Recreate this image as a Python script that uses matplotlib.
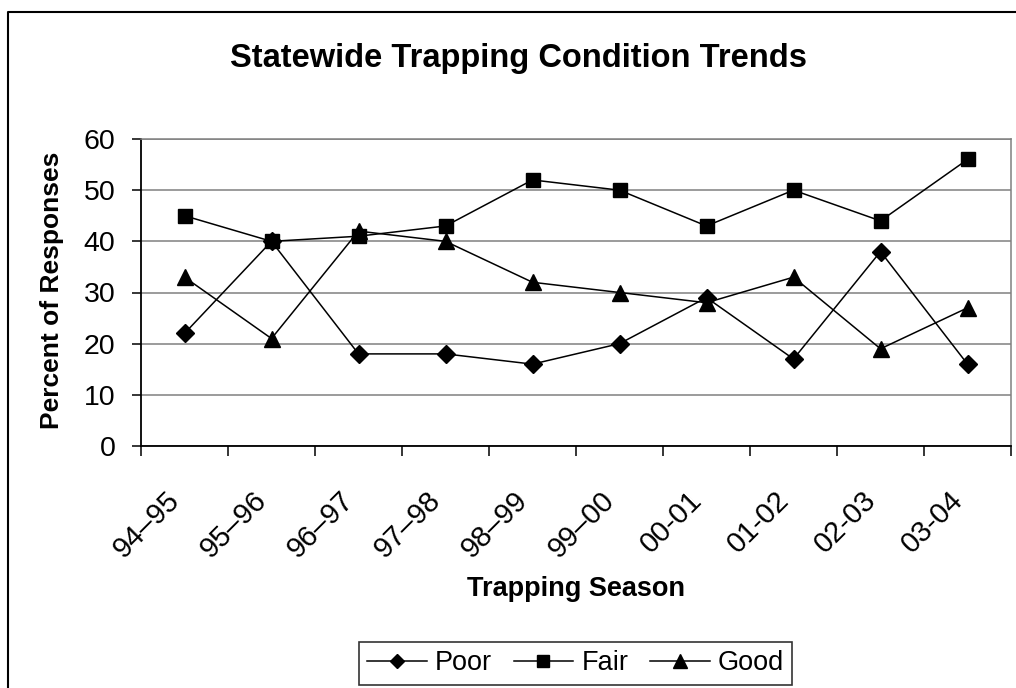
import matplotlib
matplotlib.use("Agg")
import matplotlib.pyplot as plt
import matplotlib.transforms as mtransforms
from matplotlib.lines import Line2D

seasons = ["94\u201395", "95\u201396", "96\u201397", "97\u201398", "98\u201399",
           "99\u201300", "00-01", "01-02", "02-03", "03-04"]
poor = [22, 40, 18, 18, 16, 20, 29, 17, 38, 16]
fair = [45, 40, 41, 43, 52, 50, 43, 50, 44, 56]
good = [33, 21, 42, 40, 32, 30, 28, 33, 19, 27]
y_ticks = [0, 10, 20, 30, 40, 50, 60]

plt.rcParams['font.family'] = ['Liberation Sans', 'DejaVu Sans']

W, H = 1016, 688
fig = plt.figure(figsize=(W / 100, H / 100), dpi=100)
fig.patch.set_facecolor('white')

# outer chart border (cut off on the right and bottom)
fig.add_artist(Line2D([7.5 / W, 7.5 / W, 1.0], [0.0, 1 - 11.5 / H, 1 - 11.5 / H],
                      transform=fig.transFigure, color='black', lw=1.5))

ax = fig.add_axes([141 / W, 1 - 446 / H, (1011 - 141) / W, (446 - 139) / H])

x = list(range(len(seasons)))
lw = 1.1
ax.plot(x, poor, color='black', lw=lw, marker='D', markersize=9, label='Poor', zorder=3)
ax.plot(x, fair, color='black', lw=lw, marker='s', markersize=10, label='Fair', zorder=3)
ax.plot(x, good, color='black', lw=lw, marker='^', markersize=12, label='Good', zorder=3)

ax.set_xlim(-0.5, len(seasons) - 0.5)
ax.set_ylim(0, 60)
ax.set_yticks(y_ticks)
ax.set_yticklabels([str(v) for v in y_ticks], fontsize=20.5)
ax.yaxis.grid(True, color='#808080', lw=1.1)
ax.set_axisbelow(True)

ax.set_xticks(x)
ax.set_xticklabels(seasons, fontsize=21, rotation=45, ha='right', va='top',
                   rotation_mode='anchor')
ax.set_xticks([i - 0.5 for i in range(len(seasons) + 1)], minor=True)
ax.tick_params(axis='x', which='major', length=0, pad=29)
ax.tick_params(axis='x', which='minor', length=7, width=1.1, color='black', direction='out')
ax.tick_params(axis='y', length=6.5, width=1.1, color='black', direction='out', pad=12)
off = mtransforms.ScaledTranslation(-19 / 100, 0, fig.dpi_scale_trans)
for lab in ax.get_xticklabels():
    lab.set_transform(lab.get_transform() + off)

for s in ['top', 'right']:
    ax.spines[s].set_color('#808080')
    ax.spines[s].set_linewidth(1.1)
for s in ['left', 'bottom']:
    ax.spines[s].set_color('black')
    ax.spines[s].set_linewidth(1.3)

fig.text(518 / W, 1 - 58 / H, "Statewide Trapping Condition Trends", fontsize=23.5,
         fontweight='bold', ha='center', va='center')
fig.text(52 / W, 1 - 290 / H, "Percent of Responses", fontsize=19, fontweight='bold',
         ha='center', va='center', rotation=90)
fig.text(576 / W, 1 - 589 / H, "Trapping Season", fontsize=19.5, fontweight='bold',
         ha='center', va='center')

leg = fig.legend(loc='center', bbox_to_anchor=(575.5 / W, 1 - 663.5 / H), ncol=3,
                 fontsize=19.5, frameon=True, fancybox=False, edgecolor='black',
                 handlelength=2.2, handletextpad=0.3, columnspacing=0.8,
                 borderpad=0.3, markerscale=0.8)
leg.get_frame().set_linewidth(1.2)

fig.savefig('out.png', dpi=100, facecolor='white')
